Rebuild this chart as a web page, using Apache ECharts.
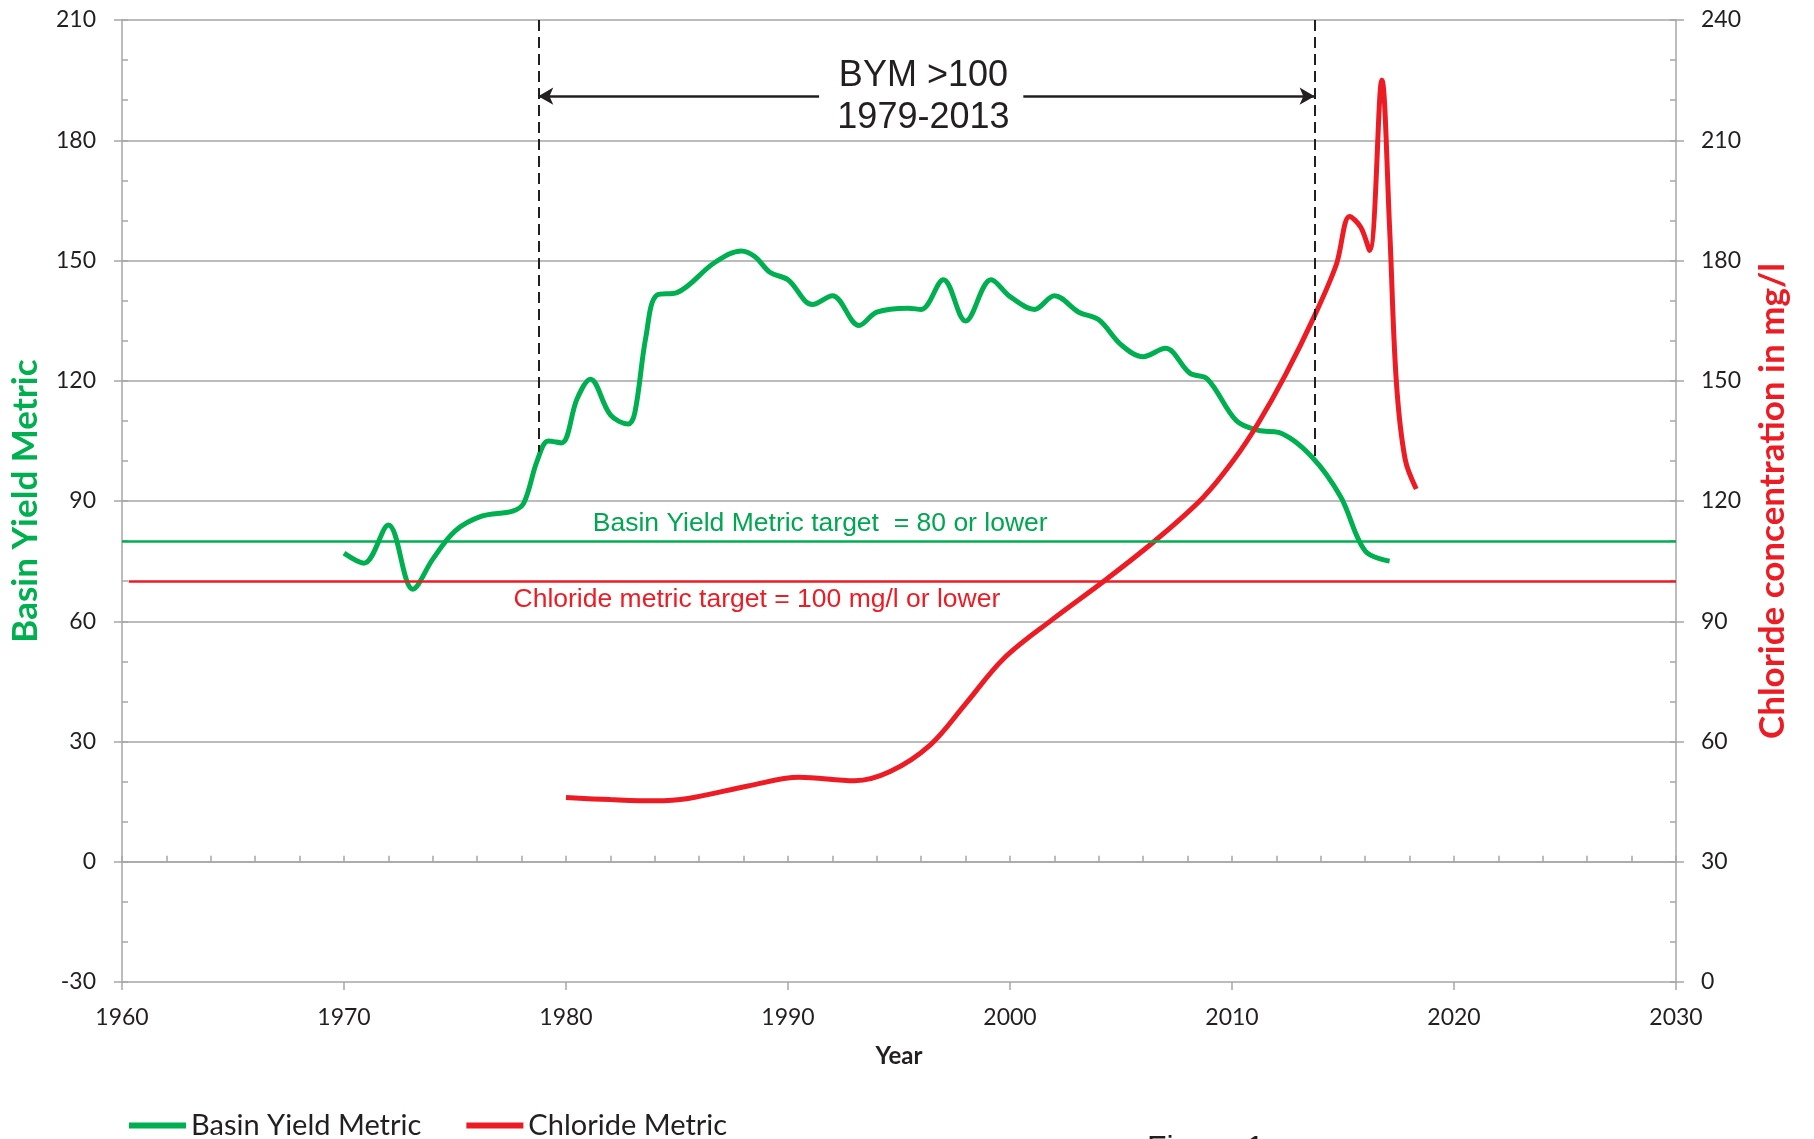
<!DOCTYPE html>
<html>
<head>
<meta charset="utf-8">
<title>Basin Yield Metric and Chloride</title>
<script src="https://cdn.jsdelivr.net/npm/echarts@6/dist/echarts.min.js"></script>
<style>
  html, body { margin: 0; padding: 0; background: #fff; }
  #chart { width: 1814px; height: 1139px; }
</style>
</head>
<body>
<div id="chart"></div>
<script type="text/javascript">
// Basin Yield Metric (left axis)
var bymYear  = [1970.0, 1970.9, 1972.0, 1973.1, 1974.0, 1975.0, 1976.2, 1977.6, 1978.1, 1978.7,
                1979.2, 1979.8, 1980.5, 1981.1, 1982.0, 1982.8, 1983.1, 1983.6, 1984.1, 1985.0,
                1986.7, 1987.9, 1988.5, 1989.2, 1990.0, 1991.1, 1992.0, 1993.2, 1994.0, 1995.4,
                1996.0, 1997.0, 1998.0, 1999.15, 2000.0, 2001.1, 2002.0, 2003.1, 2004.0, 2005.0,
                2006.0, 2007.0, 2008.1, 2008.9, 2010.2, 2011.2, 2012.1, 2013.6, 2014.9, 2016.0, 2017.1];
var bymValue = [77, 74.5, 84, 68, 75.5, 82.5, 86.2, 87.5, 89.5, 100,
                105, 104.5, 115.5, 120.4, 111.5, 109.2, 112, 131, 141.4, 142,
                149.5, 152.4, 151, 147, 145.2, 139, 141.2, 133.8, 137.1, 138.1,
                137.8, 145.2, 134.9, 145.2, 141, 137.8, 141.2, 137.1, 135.2, 129,
                126, 128.1, 121.9, 120.4, 110, 107.6, 107.1, 101, 91, 77.5, 75];

// Chloride concentration mg/l (right axis)
var chlYear  = [1980.0, 1982.0, 1984.0, 1985.5, 1988.2, 1990.5, 1993.0, 1994.6, 1996.4, 1998.0,
                1999.7, 2001.9, 2004.3, 2006.6, 2008.7, 2010.1, 2011.2, 2012.4, 2013.7, 2014.7,
                2015.3, 2015.8, 2016.2, 2016.75, 2017.1, 2017.4, 2017.8, 2018.3];
var chlValue = [46, 45.5, 45.2, 45.8, 48.9, 51.1, 50.2, 52.5, 59.1, 69.4,
                80.6, 90.4, 100.3, 110.4, 120.9, 130.4, 139.6, 151.4, 166, 179,
                191, 188.3, 182.5, 225, 188, 150, 130.4, 123];

// targets and the BYM > 100 period
var bymTarget = 80;
var chlTarget = 100;
var periodStart = 1978.75, periodEnd = 2013.72;
var periodLow = [102.3, 100.4];   // where the dashed lines stop (left axis)
var arrowLevel = 191;
var arrowGap = [1991.4, 2000.6];

var GREEN = '#00b050', RED = '#ed1c24', GRID = '#a6a6a6', INK = '#231f20';
var FONT = 'Lato';

function pairs(xs, ys) {
  return xs.map(function (x, i) { return [x, ys[i]]; });
}

var tickOut = { show: true, inside: false, length: 8, lineStyle: { color: GRID, width: 1.5 } };

var myChart = echarts.init(document.getElementById('chart'));
myChart.setOption({
  animation: false,
  grid: { left: 122, right: 138, top: 20, bottom: 157 },
  legend: {
    left: 124, top: 1106,
    itemWidth: 57, itemHeight: 6, itemGap: 45,
    icon: 'rect',
    textStyle: { fontFamily: FONT, fontSize: 29, color: INK },
    data: ['Basin Yield Metric', 'Chloride Metric']
  },
  xAxis: [{
    type: 'value', min: 1960, max: 2030, interval: 10,
    name: 'Year', nameLocation: 'middle', nameGap: 62,
    nameTextStyle: { fontFamily: FONT, fontSize: 24, fontWeight: 'bold', color: INK },
    axisLine: { show: true, lineStyle: { color: GRID, width: 1.5 } },
    axisTick: { show: true, inside: true, length: 6, lineStyle: { color: GRID, width: 1.5 } },
    minorTick: { show: true, splitNumber: 5, length: 6, lineStyle: { color: GRID, width: 1.5 } },
    splitLine: { show: false },
    axisLabel: { margin: 24, fontFamily: FONT, fontSize: 23, color: INK,
                 formatter: function (v) { return String(v); } }
  }, {
    type: 'value', min: 1960, max: 2030, interval: 10, position: 'bottom',
    axisLine: { show: false }, axisTick: tickOut, axisLabel: { show: false }, splitLine: { show: false }
  }],
  yAxis: [{
    type: 'value', min: -30, max: 210, interval: 30, position: 'left',
    name: 'Basin Yield Metric', nameLocation: 'middle', nameGap: 79, nameRotate: 90,
    nameTextStyle: { fontFamily: FONT, fontSize: 35, fontWeight: 'bold', color: GREEN },
    axisLine: { show: true, lineStyle: { color: GRID, width: 1.5 } },
    axisTick: { show: true, inside: true, length: 6, lineStyle: { color: GRID, width: 1.5 } },
    minorTick: { show: true, splitNumber: 3, length: 6, lineStyle: { color: GRID, width: 1.5 } },
    splitLine: { show: true, lineStyle: { color: GRID, width: 1.5 } },
    axisLabel: { margin: 26, fontFamily: FONT, fontSize: 23, color: INK }
  }, {
    type: 'value', min: 0, max: 240, interval: 30, position: 'right',
    name: 'Chloride concentration in mg/l', nameLocation: 'middle', nameGap: 79, nameRotate: 90,
    nameTextStyle: { fontFamily: FONT, fontSize: 35, fontWeight: 'bold', color: RED },
    axisLine: { show: true, lineStyle: { color: GRID, width: 1.5 } },
    axisTick: { show: true, inside: true, length: 6, lineStyle: { color: GRID, width: 1.5 } },
    minorTick: { show: true, splitNumber: 3, length: 6, lineStyle: { color: GRID, width: 1.5 } },
    splitLine: { show: false },
    axisLabel: { margin: 25, fontFamily: FONT, fontSize: 23, color: INK }
  }, {
    type: 'value', min: -30, max: 210, interval: 30, position: 'left',
    axisLine: { show: false }, axisTick: tickOut, axisLabel: { show: false }, splitLine: { show: false }
  }, {
    type: 'value', min: 0, max: 240, interval: 30, position: 'right',
    axisLine: { show: false }, axisTick: tickOut, axisLabel: { show: false }, splitLine: { show: false }
  }],
  series: [{
    name: 'Basin Yield Metric',
    type: 'line', xAxisIndex: 0, yAxisIndex: 0,
    data: pairs(bymYear, bymValue),
    smooth: 0.35, symbol: 'none',
    lineStyle: { color: GREEN, width: 5 },
    itemStyle: { color: GREEN },
    markLine: {
      silent: true, symbol: 'none', animation: false,
      label: { show: false },
      data: [
        [{ coord: [1960, bymTarget], lineStyle: { color: GREEN, width: 2.5, type: 'solid' } },
         { coord: [2030, bymTarget] }],
        [{ coord: [periodStart, 210], lineStyle: { color: INK, width: 2, type: [11, 6] } },
         { coord: [periodStart, periodLow[0]] }],
        [{ coord: [periodEnd, 210], lineStyle: { color: INK, width: 2, type: [11, 6] } },
         { coord: [periodEnd, periodLow[1]] }],
        [{ coord: [periodStart, arrowLevel], symbol: 'arrow', symbolSize: [13, 15],
           lineStyle: { color: INK, width: 2.5, type: 'solid' } },
         { coord: [arrowGap[0], arrowLevel], symbol: 'none' }],
        [{ coord: [arrowGap[1], arrowLevel], symbol: 'none',
           lineStyle: { color: INK, width: 2.5, type: 'solid' } },
         { coord: [periodEnd, arrowLevel], symbol: 'arrow', symbolSize: [13, 15] }]
      ]
    },
    markPoint: {
      silent: true, animation: false,
      symbol: 'circle', symbolSize: 1,
      itemStyle: { color: 'rgba(0,0,0,0)' },
      data: [
        { coord: [1996.1, 190.8],
          label: { show: true, position: 'inside', formatter: 'BYM >100\n1979-2013',
                   fontFamily: 'Liberation Sans', fontSize: 36, lineHeight: 42, color: INK } },
        { coord: [1991.45, 84.4],
          label: { show: true, position: 'inside', formatter: 'Basin Yield Metric target  = 80 or lower',
                   fontFamily: 'Liberation Sans', fontSize: 26.5, color: '#00a651' } },
        { coord: [1988.6, 65.3],
          label: { show: true, position: 'inside', formatter: 'Chloride metric target = 100 mg/l or lower',
                   fontFamily: 'Liberation Sans', fontSize: 26.5, color: RED } }
      ]
    }
  }, {
    name: 'Chloride Metric',
    type: 'line', xAxisIndex: 0, yAxisIndex: 1,
    data: pairs(chlYear, chlValue),
    smooth: 0.35, symbol: 'none',
    lineStyle: { color: RED, width: 5 },
    itemStyle: { color: RED },
    markLine: {
      silent: true, symbol: 'none', animation: false,
      label: { show: false },
      data: [
        [{ coord: [1960.3, chlTarget], lineStyle: { color: RED, width: 2.5, type: 'solid' } },
         { coord: [2030, chlTarget] }]
      ]
    }
  }],
  graphic: [{
    type: 'text', left: 1147, top: 1133,
    style: { text: 'Figure 1', font: '32px "Liberation Sans"', fill: INK }
  }]
});
</script>
</body>
</html>
